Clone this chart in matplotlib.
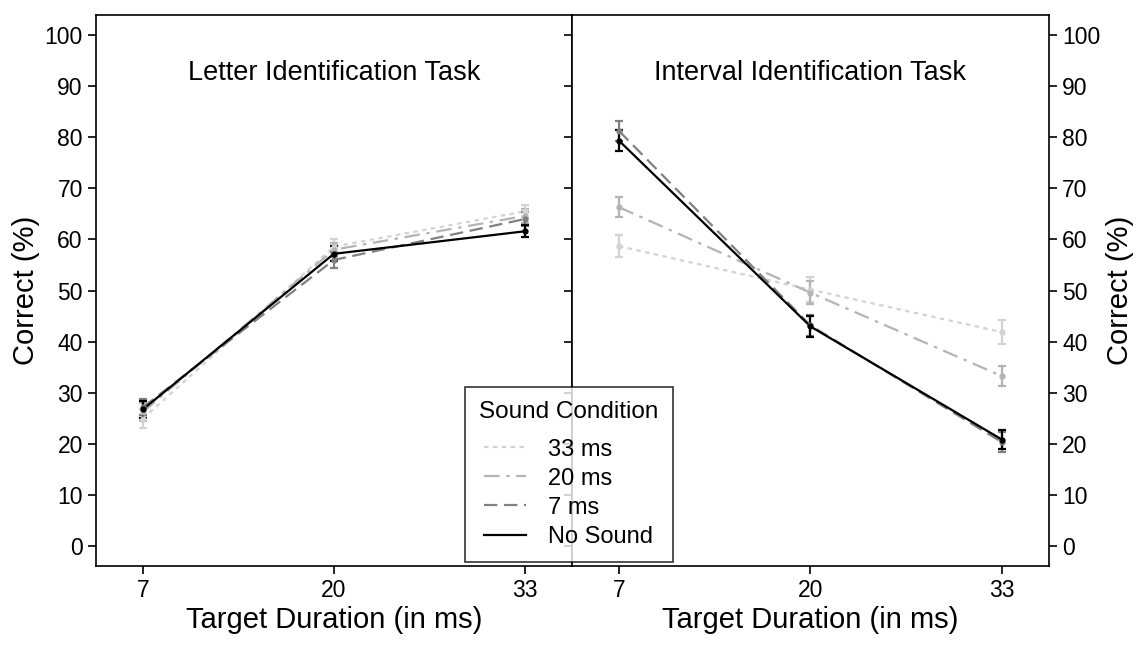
import numpy as np
import matplotlib.pyplot as plt
from matplotlib.lines import Line2D

plt.rcParams['font.family'] = ['Liberation Sans', 'DejaVu Sans']

durations = [7, 20, 33]
conditions = ['33 ms', '20 ms', '7 ms', 'No Sound']

# 字母识别任务 (均值, 标准误)
letter_mean = {
    '33 ms': [25.0, 58.6, 65.5],
    '20 ms': [26.3, 58.0, 64.6],
    '7 ms': [27.2, 56.0, 64.0],
    'No Sound': [26.8, 57.2, 61.6],
}
letter_err = {
    '33 ms': [1.8, 1.4, 1.3],
    '20 ms': [1.7, 1.4, 1.3],
    '7 ms': [1.6, 1.5, 1.4],
    'No Sound': [1.6, 1.5, 1.2],
}

# 间隔识别任务
interval_mean = {
    '33 ms': [58.7, 50.2, 41.9],
    '20 ms': [66.3, 49.6, 33.3],
    '7 ms': [81.2, 43.2, 20.4],
    'No Sound': [79.3, 43.0, 20.9],
}
interval_err = {
    '33 ms': [2.2, 2.4, 2.3],
    '20 ms': [2.0, 2.2, 2.0],
    '7 ms': [2.0, 2.0, 2.0],
    'No Sound': [2.0, 2.0, 1.8],
}

styles = {
    '33 ms': dict(color='#d3d3d3', linestyle=(0, (2, 2))),
    '20 ms': dict(color='#b4b4b4', linestyle=(0, (7, 3, 1.5, 3))),
    '7 ms': dict(color='#808080', linestyle=(0, (6, 3))),
    'No Sound': dict(color='black', linestyle='-'),
}

fig = plt.figure(figsize=(11.45, 6.46), dpi=100)
ax1 = fig.add_axes([0.0838, 0.124, 0.4157, 0.853])
ax2 = fig.add_axes([0.4995, 0.124, 0.4166, 0.853])


def draw_panel(ax, means, errs, title):
    for c in conditions:
        st = styles[c]
        ax.plot(durations, means[c], color=st['color'], linestyle=st['linestyle'],
                linewidth=1.6)
        ax.errorbar(durations, means[c], yerr=errs[c], fmt='o', color=st['color'],
                    markersize=3.5, elinewidth=1.6, capsize=3, capthick=1.6)
    ax.set_xlim(3.8, 36.2)
    ax.set_ylim(-3.8, 103.9)
    ax.set_xticks(durations)
    ax.set_yticks(np.arange(0, 101, 10))
    ax.text(20, 92.5, title, ha='center', va='center', fontsize=19.5)
    ax.set_xlabel('Target Duration (in ms)', fontsize=21, labelpad=3)
    ax.tick_params(axis='both', direction='out', length=6, width=1.2, labelsize=16.5)
    for s in ax.spines.values():
        s.set_linewidth(1.2)


draw_panel(ax1, letter_mean, letter_err, 'Letter Identification Task')
draw_panel(ax2, interval_mean, interval_err, 'Interval Identification Task')

ax1.tick_params(axis='y', left=True, right=True, labelleft=True, labelright=False)
ax1.set_ylabel('Correct (%)', fontsize=21, labelpad=3)

ax2.tick_params(axis='y', left=True, right=True, labelleft=False, labelright=True)
ax2.yaxis.set_label_position('right')
ax2.set_ylabel('Correct (%)', fontsize=21, labelpad=4)

handles = [Line2D([], [], color=styles[c]['color'], linestyle=styles[c]['linestyle'],
                  linewidth=1.6) for c in conditions]
leg = fig.legend(handles, conditions, title='Sound Condition', loc='lower left',
                 bbox_to_anchor=(465 / 1145, 1 - 562 / 646), borderaxespad=0,
                 fontsize=17, title_fontsize=17.5, frameon=True, fancybox=False,
                 edgecolor='black', handlelength=1.75, handletextpad=0.95,
                 labelspacing=0.3, borderpad=0.6)
leg.get_frame().set_linewidth(1.2)
leg._legend_box.sep = 11

fig.savefig('out.png', dpi=100)
